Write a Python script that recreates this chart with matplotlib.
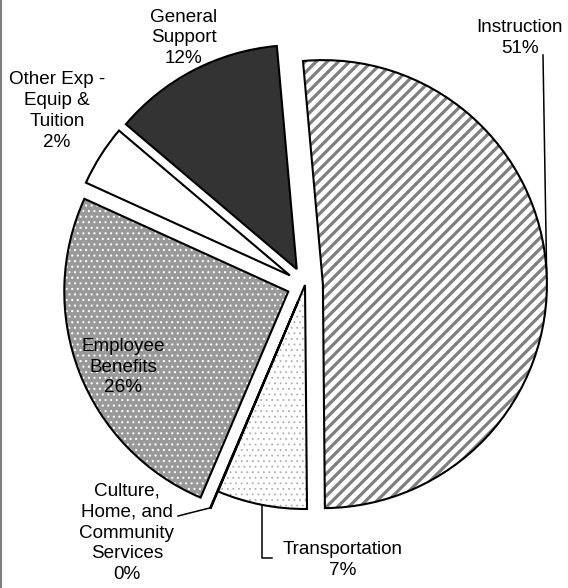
import matplotlib
matplotlib.use('Agg')
import matplotlib.pyplot as plt
import numpy as np
from matplotlib.lines import Line2D

plt.rcParams['font.family'] = ['Liberation Sans', 'DejaVu Sans']

# ---- data ----
categories = ['Instruction', 'Transportation',
              'Culture, Home, and Community Services',
              'Employee Benefits', 'Other Exp - Equip & Tuition',
              'General Support']
label_names = ['Instruction', 'Transportation',
               'Culture,\nHome, and\nCommunity\nServices',
               'Employee\nBenefits', 'Other Exp -\nEquip &\nTuition',
               'General\nSupport']
shares = [51.3, 6.5, 0.05, 25.4, 4.4, 12.4]   # slice sizes as drawn
pct_labels = ['51%', '7%', '0%', '26%', '2%', '12%']

# ---- styles / layout ----
W, H = 568, 588
R_PX = 224.0
CX, CY = 305.0, 285.0
explode = [0.08, 0.0, 0.08, 0.08, 0.08, 0.08]
face = ['white', 'white', 'white', '#999999', 'white', '#333333']
hatches = ['///', '...', None, '...', None, None]
hatch_col = ['#7f7f7f', '#b0b0b0', 'none', 'white', 'none', 'none']
hatch_lw = [2.3, 0.6, 1.0, 0.8, 1.0, 1.0]
label_px = [(520, 38), (343, 560), (127, 533), (123, 367), (57, 111), (184, 38)]
FS = 13.6


def px2d(x, y):
    return (x - CX) / R_PX, (CY - y) / R_PX


fig = plt.figure(figsize=(W / 100, H / 100), dpi=100)
ax = fig.add_axes([0, 0, 1, 1])

plt.rcParams['hatch.linewidth'] = 2.3
wedges, _ = ax.pie(shares, explode=explode, startangle=95.1, counterclock=False,
                   radius=1.0, colors=face, wedgeprops=dict(linewidth=0))
for w, ec, h, hl in zip(wedges, hatch_col, hatches, hatch_lw):
    w.set_edgecolor(ec)
    w.set_linewidth(0)
    if h:
        w.set_hatch(h)
    if hasattr(w, 'set_hatch_linewidth'):
        w.set_hatch_linewidth(hl)

outl, _ = ax.pie(shares, explode=explode, startangle=95.1, counterclock=False,
                 radius=1.0, colors=['none'] * len(shares),
                 wedgeprops=dict(edgecolor='black', linewidth=1.5))

ax.set_xlim((0 - CX) / R_PX, (W - CX) / R_PX)
ax.set_ylim((CY - H) / R_PX, CY / R_PX)
ax.set_aspect('equal')
ax.axis('off')

# labels
for name, pct, (lx, ly) in zip(label_names, pct_labels, label_px):
    x, y = px2d(lx, ly)
    ax.text(x, y, name + '\n' + pct, ha='center', va='center',
            fontsize=FS, linespacing=1.3, color='black')


def arc_point(w, frac=0.5):
    th = np.deg2rad(w.theta1 + (w.theta2 - w.theta1) * frac)
    cx, cy = w.center
    return cx + w.r * np.cos(th), cy + w.r * np.sin(th)

# Instruction leader
ax_, ay_ = arc_point(wedges[0])
sx, sy = px2d(543, 55)
ax.add_line(Line2D([sx, ax_], [sy, ay_], color='black', lw=1.1))

# Transportation leader
tx, ty = arc_point(wedges[1])
_, by = px2d(0, 558)
ex, _ = px2d(272, 0)
ax.add_line(Line2D([tx, tx, ex], [ty, by, by], color='black', lw=1.1))

# Culture leader
cxp, cyp = arc_point(wedges[2])
lx, ly = px2d(178, 516)
ax.add_line(Line2D([lx, cxp], [ly, cyp], color='black', lw=1.1))

# left border
fig.add_artist(Line2D([0.8 / W, 0.8 / W], [0, 1], transform=fig.transFigure,
                      color='#7f7f7f', lw=1.5))

fig.savefig('out.png', dpi=100)
